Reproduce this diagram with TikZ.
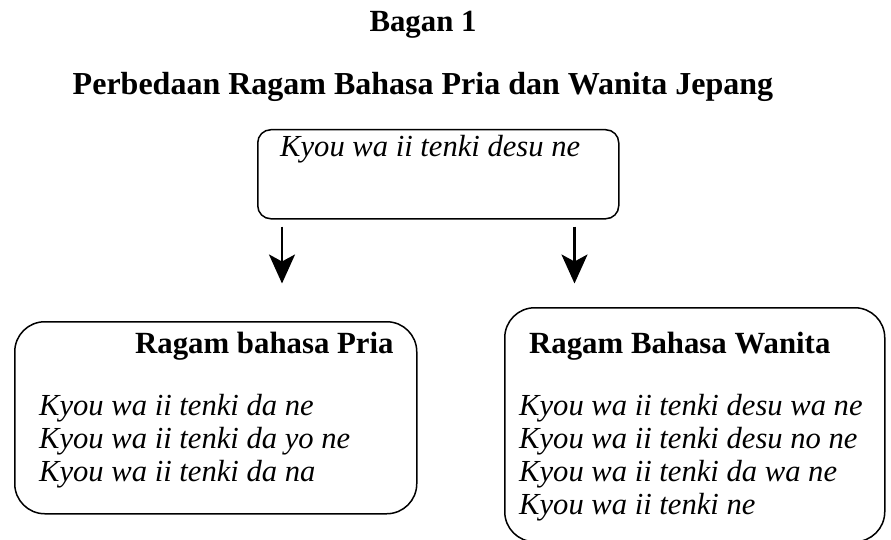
\documentclass[tikz,border=0pt]{standalone}
\usepackage{fontspec}
\setmainfont{Liberation Serif}
\usetikzlibrary{arrows.meta,calc,positioning}
\tikzset{>={Stealth[length=29pt,width=26pt,inset=7pt]},
  every node/.style={inner sep=0pt},
  heading/.style={font=\fontsize{30.8}{34}\selectfont\bfseries},
  sample/.style={font=\fontsize{30.6}{33}\selectfont\itshape,anchor=base west},
  box/.style={draw,line width=1.5pt,rounded corners=#1,inner sep=0pt,anchor=north west},
  box/.default=13pt,
  flow/.style={->,line width=2.4pt}}
\begin{document}
\begin{tikzpicture}[x=1pt,y=-1pt]
\useasboundingbox (0,0) rectangle (891,540);
% judul
\node[heading,anchor=base] (bagan) at (423,32) {Bagan 1};
\node[heading,anchor=base,font=\fontsize{32}{34}\selectfont\bfseries] (judul) at (423,95) {Perbedaan Ragam Bahasa Pria dan Wanita Jepang};
% kalimat umum
\node[box,minimum width=361pt,minimum height=89pt] (umum) at (257,129) {};
\node[sample] (kalimat) at ($(umum.north west)+(23,28)$) {Kyou wa ii tenki desu ne};
\coordinate (kiri1) at ($(umum.south west)+(25,7)$);\coordinate (kiri2) at ($(kiri1)+(0,57)$);
\coordinate (kanan1) at ($(umum.south east)+(-45,7)$);\coordinate (kanan2) at ($(kanan1)+(0,57)$);
\draw[flow] (kiri1)--(kiri2);\draw[flow] (kanan1)--(kanan2);
% ragam pria dan wanita
\node[box=30pt,minimum width=402pt,minimum height=192pt] (pria) at (14,321) {};
\node[box=30pt,minimum width=380pt,minimum height=234pt] (wanita) at (504,307) {};
\node[heading,anchor=base west] (hpria) at ($(pria.north west)+(121,32)$) {Ragam bahasa Pria};
\node[heading,anchor=base west] (hwanita) at ($(wanita.north west)+(25,46)$) {Ragam Bahasa Wanita};
\foreach \t [count=\i] in {Kyou wa ii tenki da ne,Kyou wa ii tenki da yo ne,Kyou wa ii tenki da na}
  \node[sample] (pria\i) at ($(pria.north west)+(25,{61+33*\i})$) {\t};
\foreach \t [count=\i] in {Kyou wa ii tenki desu wa ne,Kyou wa ii tenki desu no ne,Kyou wa ii tenki da wa ne,Kyou wa ii tenki ne}
  \node[sample] (wanita\i) at ($(wanita.north west)+(15,{75+33*\i})$) {\t};
\end{tikzpicture}
\end{document}
